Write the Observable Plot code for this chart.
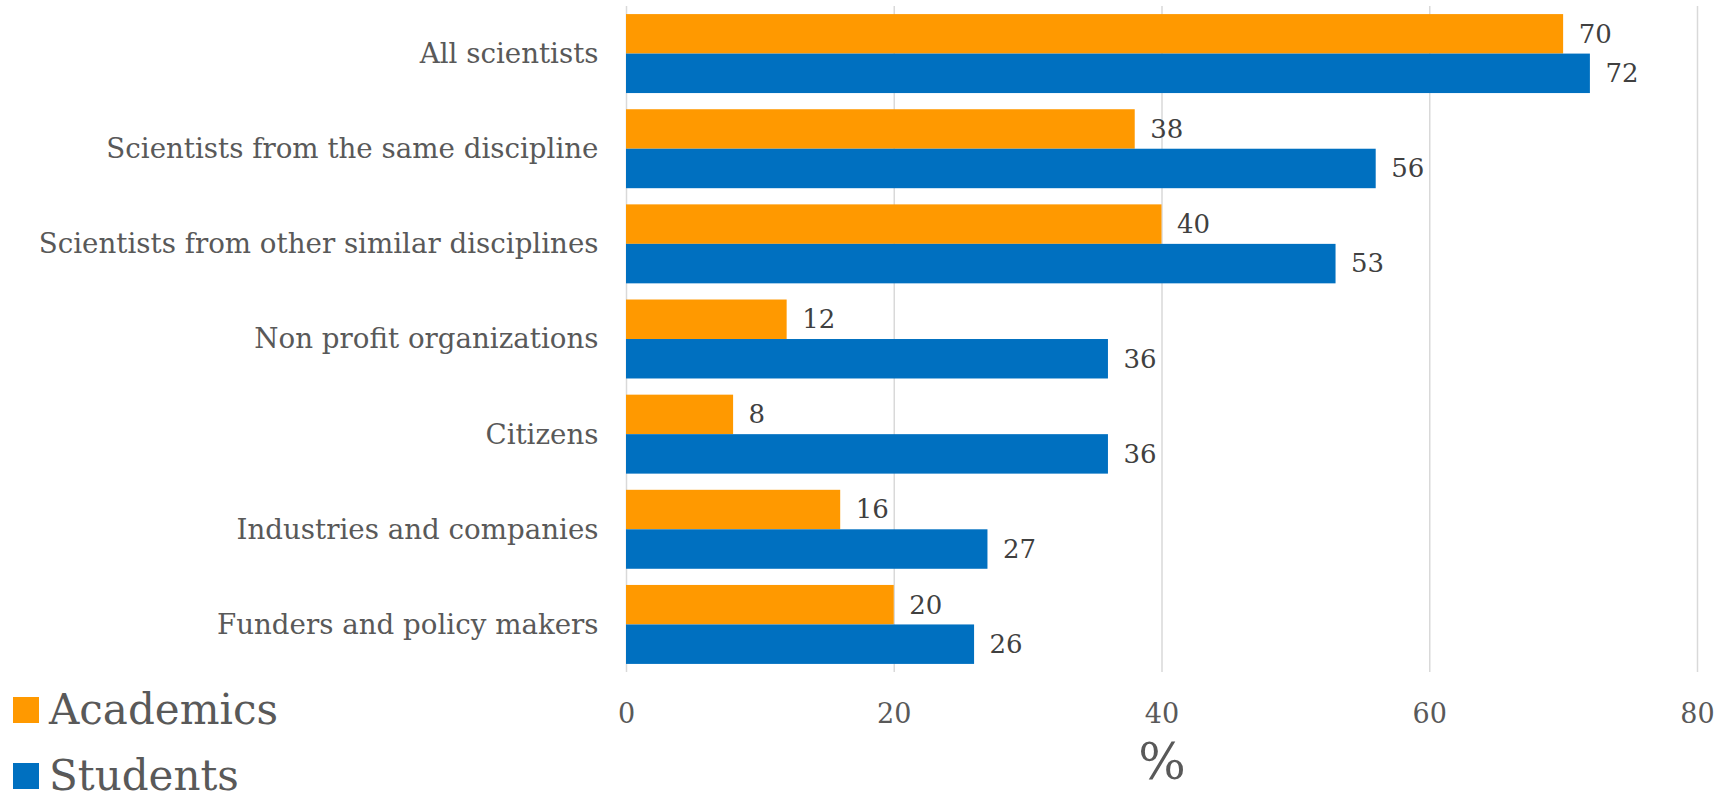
<!DOCTYPE html>
<html><head><meta charset="utf-8">
<script src="https://cdn.jsdelivr.net/npm/d3@7"></script>
<script src="https://cdn.jsdelivr.net/npm/@observablehq/plot@0.6"></script>
<style>
body{margin:0;background:#fff;}
#wrap{position:relative;width:1733px;height:803px;font-family:"DejaVu Serif",serif;overflow:hidden;}
#legend{position:absolute;left:13px;top:0;}
.item{position:absolute;left:0;white-space:nowrap;line-height:40px;height:40px;color:#595959;font-size:42px;}
.sw{display:inline-block;width:26px;height:26px;margin-right:10px;vertical-align:middle;position:relative;top:-3px;}
</style></head><body><div id="wrap"><div id="legend"></div></div>
<script>
const categories = ["All scientists","Scientists from the same discipline","Scientists from other similar disciplines","Non profit organizations","Citizens","Industries and companies","Funders and policy makers"];
const series = ["Academics","Students"];
const academics = [70,38,40,12,8,16,20];
const students = [72,56,53,36,36,27,26];
const colors = ["#FF9900","#0070C0"];
const xTicks = [0,20,40,60,80];
const axisTitle = "%";

const rowsA = categories.map((c,i)=>({category:c, series:series[0], value:academics[i]}));
const rowsB = categories.map((c,i)=>({category:c, series:series[1], value:students[i]}));

const font = '"DejaVu Serif", serif';
const chart = Plot.plot({
  width:1733, height:803,
  marginLeft:626, marginRight:36, marginTop:6, marginBottom:131,
  style:{fontFamily:font, background:"#fff", overflow:"visible"},
  x:{domain:[0,80], ticks:xTicks, label:null},
  y:{domain:categories, paddingInner:0.17, paddingOuter:0.085, round:false, label:null},
  color:{domain:series, range:colors},
  marks:[
    Plot.ruleX(xTicks, {stroke:"#D9D9D9", strokeWidth:1.5}),
    Plot.barX(rowsA, {x:"value", y:"category", fill:"series", insetBottom:39.5}),
    Plot.barX(rowsB, {x:"value", y:"category", fill:"series", insetTop:39.5}),
    Plot.text(rowsA, {x:"value", y:"category", text:"value", dy:-19.75, dx:15, textAnchor:"start", fill:"#404040", fontSize:26}),
    Plot.text(rowsB, {x:"value", y:"category", text:"value", dy:19.75, dx:15, textAnchor:"start", fill:"#404040", fontSize:26}),
    Plot.axisY({tickSize:0, tickPadding:28, fontSize:27.7, color:"#595959", label:null}),
    Plot.axisX({ticks:xTicks, tickSize:0, tickPadding:31, fontSize:27, color:"#595959", label:null}),
    Plot.text([axisTitle], {frameAnchor:"bottom", dy:106, fontSize:50, fill:"#595959"})
  ]
});
document.getElementById("wrap").appendChild(chart);

const legend = document.getElementById("legend");
const legendTops = [690, 756];
series.forEach((s,i)=>{
  const d = document.createElement("div");
  d.className = "item";
  d.style.top = legendTops[i] + "px";
  const sw = document.createElement("span");
  sw.className = "sw";
  sw.style.background = colors[i];
  d.appendChild(sw);
  d.appendChild(document.createTextNode(s));
  legend.appendChild(d);
});
</script>
</body></html>
